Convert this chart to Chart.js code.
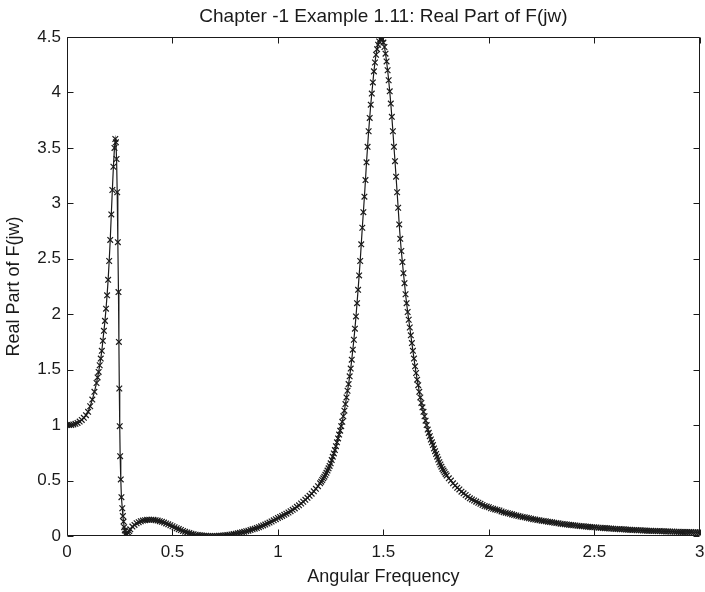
<!DOCTYPE html>
<html>
<head>
<meta charset="utf-8">
<script src="https://cdn.jsdelivr.net/npm/chart.js@4"></script>
<style>
  html, body { margin: 0; padding: 0; background: #ffffff; overflow: hidden; }
  canvas { display: block; }
</style>
</head>
<body>
<canvas id="c" width="705" height="592"></canvas>
<script>
// ---- Data ----
const chartTitle = 'Chapter -1 Example 1.11: Real Part of F(jw)';
const xAxisTitle = 'Angular Frequency';
const yAxisTitle = 'Real Part of F(jw)';
const xTicks = [0, 0.5, 1, 1.5, 2, 2.5, 3];
const yTicks = [0, 0.5, 1, 1.5, 2, 2.5, 3, 3.5, 4, 4.5];

// low-frequency rise up to the first (narrow) resonance
const freqRise = [0, 0.01, 0.02, 0.03, 0.04, 0.05, 0.06, 0.07, 0.08, 0.09, 0.10, 0.11, 0.12, 0.13,
  0.14, 0.145, 0.15, 0.155, 0.16, 0.165, 0.17, 0.175, 0.18, 0.185, 0.19, 0.195, 0.20, 0.205, 0.21,
  0.215, 0.22, 0.225, 0.229];
const realRise = [1.000, 1.000, 1.002, 1.006, 1.012, 1.020, 1.032, 1.047, 1.066, 1.090, 1.120, 1.170, 1.230, 1.300,
  1.38, 1.43, 1.48, 1.54, 1.60, 1.67, 1.76, 1.85, 1.94, 2.05, 2.17, 2.31, 2.48, 2.67, 2.90,
  3.12, 3.33, 3.50, 3.58];

// steep fall after the first resonance
const freqFall = [0.232, 0.235, 0.238, 0.241, 0.244, 0.246, 0.248, 0.250, 0.252, 0.255, 0.258, 0.262,
  0.265, 0.268, 0.271, 0.274, 0.277, 0.280];
const realFall = [3.55, 3.40, 3.10, 2.65, 2.20, 1.75, 1.33, 0.99, 0.72, 0.51, 0.35, 0.25,
  0.18, 0.13, 0.08, 0.05, 0.02, 0.005];

// small bump and dip between the two resonances
const freqDip = [0.285, 0.29, 0.295, 0.30, 0.31, 0.32, 0.33, 0.34, 0.35, 0.36, 0.37, 0.38, 0.39, 0.40,
  0.41, 0.42, 0.43, 0.44, 0.45, 0.46, 0.47, 0.48, 0.49, 0.50, 0.51, 0.52, 0.53, 0.54, 0.55, 0.56,
  0.57, 0.58, 0.59, 0.60, 0.61, 0.62, 0.63, 0.64, 0.65, 0.66, 0.67, 0.68, 0.69, 0.70, 0.71, 0.72,
  0.73, 0.74, 0.75, 0.76, 0.77, 0.78, 0.79, 0.80, 0.81, 0.82, 0.83, 0.84, 0.85, 0.86, 0.87, 0.88,
  0.89, 0.90, 0.91, 0.92, 0.93, 0.94, 0.95, 0.96, 0.97, 0.98, 0.99, 1.00, 1.01, 1.02, 1.03, 1.04,
  1.05, 1.06, 1.07, 1.08, 1.09, 1.10, 1.11, 1.12, 1.13, 1.14, 1.15, 1.16, 1.17, 1.18, 1.19];
const realDip = [0.015, 0.03, 0.045, 0.06, 0.085, 0.10, 0.115, 0.125, 0.133, 0.139, 0.143, 0.146, 0.147, 0.147,
  0.146, 0.143, 0.139, 0.134, 0.128, 0.121, 0.113, 0.105, 0.097, 0.088, 0.079, 0.070, 0.062, 0.054, 0.046, 0.039,
  0.032, 0.026, 0.021, 0.016, 0.012, 0.009, 0.006, 0.004, 0.003, 0.002, 0.001, 0.001, 0.001, 0.001, 0.001, 0.002,
  0.003, 0.004, 0.006, 0.008, 0.011, 0.014, 0.017, 0.021, 0.025, 0.029, 0.033, 0.038, 0.043, 0.048, 0.054, 0.060,
  0.066, 0.073, 0.080, 0.087, 0.095, 0.103, 0.112, 0.121, 0.131, 0.141, 0.152, 0.163, 0.172, 0.181, 0.191, 0.201,
  0.212, 0.224, 0.236, 0.249, 0.263, 0.277, 0.293, 0.309, 0.326, 0.344, 0.362, 0.382, 0.403, 0.425, 0.449];

// the main resonance peak
const freqPeak = [1.200, 1.205, 1.210, 1.215, 1.220, 1.225, 1.230, 1.235, 1.240, 1.245, 1.250, 1.255,
  1.260, 1.265, 1.270, 1.275, 1.280, 1.285, 1.290, 1.295, 1.300, 1.305, 1.310, 1.315, 1.320, 1.325,
  1.330, 1.335, 1.340, 1.345, 1.350, 1.355, 1.360, 1.365, 1.370, 1.375, 1.380, 1.385, 1.390, 1.395,
  1.400, 1.405, 1.410, 1.415, 1.420, 1.425, 1.430, 1.435, 1.440, 1.445, 1.450, 1.455, 1.460, 1.465,
  1.470, 1.475, 1.480, 1.485, 1.490, 1.495, 1.500, 1.505, 1.510, 1.515, 1.520, 1.525, 1.530, 1.535,
  1.540, 1.545, 1.550, 1.555, 1.560, 1.565, 1.570, 1.575, 1.580, 1.585, 1.590, 1.595, 1.600, 1.605,
  1.610, 1.615, 1.620, 1.625, 1.630, 1.635, 1.640, 1.645, 1.650, 1.655, 1.660, 1.665, 1.670, 1.675,
  1.680, 1.685, 1.690, 1.695, 1.700, 1.705, 1.710, 1.715, 1.720, 1.725, 1.730, 1.735, 1.740, 1.745,
  1.750, 1.755, 1.760, 1.765, 1.770, 1.775, 1.780, 1.785, 1.790, 1.795, 1.800];
const realPeak = [0.475, 0.49, 0.505, 0.52, 0.535, 0.552, 0.57, 0.59, 0.61, 0.632, 0.655, 0.685,
  0.715, 0.745, 0.775, 0.81, 0.845, 0.88, 0.915, 0.95, 0.99, 1.03, 1.08, 1.13, 1.19, 1.25,
  1.31, 1.37, 1.44, 1.51, 1.59, 1.68, 1.77, 1.87, 1.98, 2.10, 2.22, 2.35, 2.48, 2.63,
  2.78, 2.92, 3.06, 3.21, 3.37, 3.51, 3.65, 3.77, 3.89, 3.99, 4.09, 4.19, 4.27, 4.34,
  4.39, 4.43, 4.46, 4.48, 4.49, 4.48, 4.45, 4.41, 4.35, 4.28, 4.20, 4.11, 4.01, 3.90,
  3.78, 3.65, 3.51, 3.38, 3.24, 3.10, 2.96, 2.81, 2.68, 2.57, 2.47, 2.37, 2.28, 2.18,
  2.10, 2.02, 1.95, 1.88, 1.81, 1.74, 1.67, 1.60, 1.53, 1.47, 1.41, 1.36, 1.30, 1.25,
  1.20, 1.16, 1.12, 1.08, 1.04, 1.00, 0.96, 0.93, 0.90, 0.87, 0.845, 0.82, 0.79, 0.765,
  0.74, 0.715, 0.69, 0.665, 0.645, 0.625, 0.605, 0.59, 0.575, 0.56, 0.545];

// high-frequency tail
const freqTail = [1.81, 1.82, 1.83, 1.84, 1.85, 1.86, 1.87, 1.88, 1.89, 1.90, 1.91, 1.92, 1.93, 1.94, 1.95,
  1.96, 1.97, 1.98, 1.99, 2.00, 2.01, 2.02, 2.03, 2.04, 2.05, 2.06, 2.07, 2.08, 2.09, 2.10,
  2.11, 2.12, 2.13, 2.14, 2.15, 2.16, 2.17, 2.18, 2.19, 2.20, 2.21, 2.22, 2.23, 2.24, 2.25,
  2.26, 2.27, 2.28, 2.29, 2.30, 2.31, 2.32, 2.33, 2.34, 2.35, 2.36, 2.37, 2.38, 2.39, 2.40,
  2.41, 2.42, 2.43, 2.44, 2.45, 2.46, 2.47, 2.48, 2.49, 2.50, 2.51, 2.52, 2.53, 2.54, 2.55,
  2.56, 2.57, 2.58, 2.59, 2.60, 2.61, 2.62, 2.63, 2.64, 2.65, 2.66, 2.67, 2.68, 2.69, 2.70,
  2.71, 2.72, 2.73, 2.74, 2.75, 2.76, 2.77, 2.78, 2.79, 2.80, 2.81, 2.82, 2.83, 2.84, 2.85,
  2.86, 2.87, 2.88, 2.89, 2.90, 2.91, 2.92, 2.93, 2.94, 2.95, 2.96, 2.97, 2.98, 2.99, 3.00];
const realTail = [0.52, 0.50, 0.475, 0.455, 0.435, 0.42, 0.40, 0.385, 0.37, 0.355, 0.34, 0.33, 0.32, 0.31, 0.30,
  0.29, 0.28, 0.27, 0.265, 0.26, 0.25, 0.245, 0.24, 0.235, 0.23, 0.222, 0.215, 0.21, 0.205, 0.20,
  0.195, 0.19, 0.185, 0.18, 0.176, 0.172, 0.168, 0.164, 0.16, 0.156, 0.152, 0.148, 0.144, 0.141, 0.138,
  0.135, 0.132, 0.129, 0.126, 0.123, 0.12, 0.117, 0.114, 0.111, 0.108, 0.106, 0.104, 0.101, 0.099, 0.097,
  0.095, 0.093, 0.091, 0.089, 0.087, 0.085, 0.083, 0.081, 0.08, 0.078, 0.077, 0.075, 0.074, 0.072, 0.071,
  0.07, 0.068, 0.067, 0.066, 0.064, 0.063, 0.062, 0.061, 0.06, 0.058, 0.057, 0.056, 0.055, 0.054, 0.053,
  0.052, 0.051, 0.05, 0.049, 0.048, 0.047, 0.047, 0.046, 0.045, 0.044, 0.044, 0.043, 0.042, 0.041, 0.041,
  0.04, 0.04, 0.039, 0.038, 0.038, 0.037, 0.037, 0.036, 0.036, 0.035, 0.035, 0.034, 0.034, 0.033, 0.033];

// ---- Build chart data ----
function pairs(freqs, vals) { return freqs.map((f, i) => ({ x: f, y: vals[i] })); }
const points = [].concat(
  pairs(freqRise, realRise),
  pairs(freqFall, realFall),
  pairs(freqDip, realDip),
  pairs(freqPeak, realPeak),
  pairs(freqTail, realTail)
);

const FONT = "'Liberation Sans', Arial, Helvetica, sans-serif";
const INK = '#1a1a1a';

// MATLAB-style box with inward tick marks on all four sides
const matlabBox = {
  id: 'matlabBox',
  afterDatasetsDraw(chart) {
    const { ctx, chartArea: a, scales } = chart;
    const xs = scales.x, ys = scales.y;
    const L = Math.round(a.left) + 0.5, R = Math.round(a.right) - 0.5;
    const T = Math.round(a.top) + 0.5, B = Math.round(a.bottom) - 0.5;
    const len = 6;
    ctx.save();
    ctx.strokeStyle = INK;
    ctx.lineWidth = 1;
    ctx.beginPath();
    ctx.rect(L, T, R - L, B - T);
    xs.ticks.forEach(t => {
      const px = Math.round(xs.getPixelForValue(t.value)) + 0.5;
      ctx.moveTo(px, B); ctx.lineTo(px, B - len);
      ctx.moveTo(px, T); ctx.lineTo(px, T + len);
    });
    ys.ticks.forEach(t => {
      const py = Math.round(ys.getPixelForValue(t.value)) + 0.5;
      ctx.moveTo(L, py); ctx.lineTo(L + len, py);
      ctx.moveTo(R, py); ctx.lineTo(R - len, py);
    });
    ctx.stroke();
    ctx.restore();
  }
};

new Chart(document.getElementById('c'), {
  type: 'scatter',
  data: {
    datasets: [{
      label: yAxisTitle,
      data: points,
      showLine: true,
      borderColor: INK,
      borderWidth: 1.2,
      backgroundColor: INK,
      pointStyle: 'crossRot',
      pointRadius: 4,
      pointBorderWidth: 1.2,
      pointBorderColor: INK,
      pointHoverRadius: 4
    }]
  },
  options: {
    responsive: false,
    devicePixelRatio: 1,
    animation: false,
    layout: { padding: { left: 0, right: 2, top: 0, bottom: 0 } },
    plugins: {
      legend: { display: false },
      tooltip: { enabled: false },
      title: {
        display: true,
        text: chartTitle,
        fullSize: false,
        color: INK,
        font: { family: FONT, size: 19, weight: 'normal' },
        padding: { top: 5, bottom: 9.2 }
      }
    },
    scales: {
      x: {
        type: 'linear',
        min: xTicks[0],
        max: xTicks[xTicks.length - 1],
        afterBuildTicks(s) { s.ticks = xTicks.map(v => ({ value: v })); },
        ticks: {
          color: INK,
          font: { family: FONT, size: 17 },
          padding: 6,
          maxRotation: 0,
          autoSkip: false,
          callback: v => String(+(+v).toFixed(2))
        },
        grid: { display: true, drawOnChartArea: false, drawTicks: false },
        border: { display: false },
        title: {
          display: true,
          text: xAxisTitle,
          color: INK,
          font: { family: FONT, size: 18 },
          padding: { top: 0, bottom: 4 }
        },
        afterFit(s) { s.height = 56; s.paddingLeft = 0; s.paddingRight = 0; }
      },
      y: {
        type: 'linear',
        min: yTicks[0],
        max: yTicks[yTicks.length - 1],
        afterBuildTicks(s) { s.ticks = yTicks.map(v => ({ value: v })); },
        ticks: {
          color: INK,
          font: { family: FONT, size: 17 },
          padding: 6,
          autoSkip: false,
          callback: v => String(+(+v).toFixed(2))
        },
        grid: { display: true, drawOnChartArea: false, drawTicks: false },
        border: { display: false },
        title: {
          display: true,
          text: yAxisTitle,
          color: INK,
          font: { family: FONT, size: 18 },
          padding: { top: 3, bottom: 0 }
        },
        afterFit(s) { s.width = 67; }
      }
    }
  },
  plugins: [matlabBox]
});
</script>
</body>
</html>
